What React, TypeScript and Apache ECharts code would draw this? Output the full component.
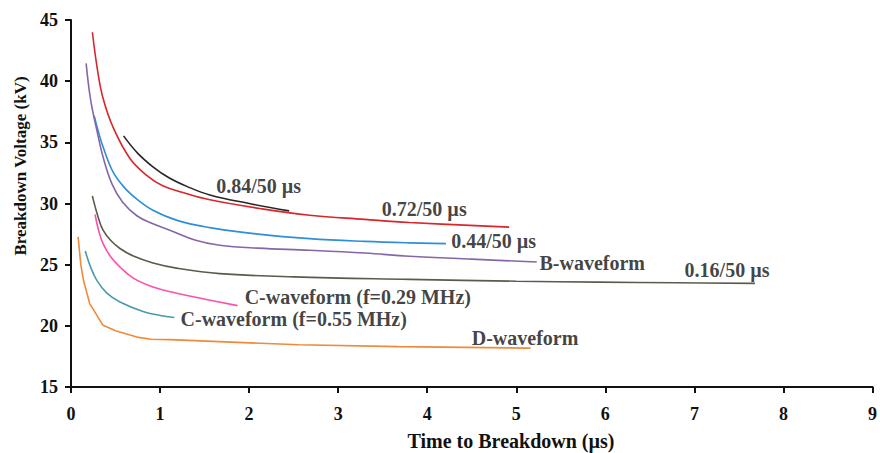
import React, { useEffect, useRef } from "react";
import * as echarts from "echarts";

const xTicks = [0, 1, 2, 3, 4, 5, 6, 7, 8, 9];
const yTicks = [15, 20, 25, 30, 35, 40, 45];

const s084 = [[0.59, 35.53], [0.75, 34.1], [0.92, 33.0], [1.1, 32.1], [1.3, 31.4], [1.56, 30.7], [2.0, 30.0], [2.45, 29.4]];
const s072 = [[0.24, 44.0], [0.3, 40.8], [0.36, 38.6], [0.47, 36.27], [0.66, 33.7], [0.85, 32.3], [1.03, 31.45], [1.3, 30.8], [1.56, 30.3], [2.12, 29.59], [2.68, 29.04], [3.3, 28.7], [3.8, 28.45], [4.92, 28.07]];
const s044 = [[0.26, 37.17], [0.31, 35.8], [0.36, 34.63], [0.47, 32.6], [0.6, 31.3], [0.75, 30.3], [0.92, 29.45], [1.2, 28.6], [1.56, 28.03], [2.1, 27.5], [2.68, 27.13], [3.3, 26.9], [3.8, 26.78], [4.21, 26.72]];
const sB = [[0.17, 41.46], [0.22, 38.5], [0.29, 36.0], [0.36, 33.8], [0.46, 31.6], [0.58, 30.1], [0.74, 29.0], [0.9, 28.4], [1.11, 27.82], [1.4, 27.0], [1.67, 26.59], [2.1, 26.35], [2.68, 26.18], [3.3, 25.95], [3.8, 25.69], [4.5, 25.45], [5.23, 25.22]];
const s016 = [[0.24, 30.62], [0.3, 29.0], [0.36, 27.82], [0.45, 26.95], [0.55, 26.32], [0.7, 25.7], [0.92, 25.14], [1.2, 24.7], [1.67, 24.27], [2.5, 24.0], [3.8, 23.8], [5.0, 23.65], [5.92, 23.57], [6.8, 23.52], [7.68, 23.47]];
const sC029 = [[0.27, 29.1], [0.31, 27.8], [0.36, 26.72], [0.45, 25.6], [0.55, 24.81], [0.7, 23.9], [0.92, 23.18], [1.2, 22.65], [1.48, 22.22], [1.87, 21.65]];
const sC055 = [[0.16, 26.12], [0.22, 24.8], [0.29, 23.72], [0.4, 22.7], [0.55, 21.95], [0.8, 21.2], [1.0, 20.85], [1.16, 20.68]];
const sD = [[0.08, 27.27], [0.11, 25.0], [0.14, 23.72], [0.21, 21.82], [0.36, 20.04], [0.5, 19.6], [0.74, 19.08], [0.9, 18.9], [1.11, 18.87], [2.56, 18.45], [3.68, 18.3], [5.16, 18.18]];

const seriesNames = ["0.84/50 µs", "0.72/50 µs", "0.44/50 µs", "B-waveform", "0.16/50 µs", "C-waveform (f=0.29 MHz)", "C-waveform (f=0.55 MHz)", "D-waveform"];
const seriesData = [s084, s072, s044, sB, s016, sC029, sC055, sD];
const seriesColors = ["#262626", "#d9262b", "#2e8fd8", "#8467a8", "#5b5b4b", "#ff4fa8", "#4a9aaa", "#f08a3a"];
const seriesSmooth = [0.4, 0.4, 0.4, 0.4, 0.4, 0.4, 0.4, false];

// label anchor (left edge, vertical middle) in data coordinates
const labelPos = [[1.63, 31.42], [3.49, 29.53], [4.27, 26.92], [5.26, 25.12], [6.89, 24.54], [1.95, 22.33], [1.23, 20.53], [4.5, 18.98]];

const xTitle = "Time to Breakdown (µs)";
const yTitle = "Breakdown Voltage (kV)";

const FONT = "'Liberation Serif', 'Times New Roman', serif";

export default function App() {
  const ref = useRef<HTMLDivElement>(null);
  useEffect(() => {
    if (!ref.current) return;
    const chart = echarts.init(ref.current, null, { renderer: "svg" });
    const lineSeries = seriesData.map((d, i) => ({
      type: "line",
      name: seriesNames[i],
      data: d,
      smooth: seriesSmooth[i],
      showSymbol: false,
      symbol: "none",
      lineStyle: { color: seriesColors[i], width: 1.6 },
      itemStyle: { color: seriesColors[i] },
      z: 2,
    }));
    const labelSeries = {
      type: "scatter",
      name: "labels",
      symbolSize: 0,
      data: labelPos.map((p, i) => ({ value: p, name: seriesNames[i] })),
      label: {
        show: true,
        position: "right",
        distance: 0,
        formatter: (p: any) => p.name,
        fontFamily: FONT,
        fontWeight: "bold",
        fontSize: 20,
        color: "#111",
      },
      silent: true,
      z: 3,
    };
    chart.setOption({
      animation: false,
      backgroundColor: "#fff",
      grid: { left: 71, right: 5, top: 20, bottom: 66 },
      xAxis: {
        type: "value",
        min: xTicks[0],
        max: xTicks[xTicks.length - 1],
        interval: 1,
        axisLine: { lineStyle: { color: "#111", width: 2 } },
        axisTick: { show: true, length: 6, lineStyle: { color: "#111", width: 2 } },
        axisLabel: { fontFamily: FONT, fontWeight: "bold", fontSize: 18, color: "#111", margin: 18 },
        splitLine: { show: false },
      },
      yAxis: {
        type: "value",
        min: yTicks[0],
        max: yTicks[yTicks.length - 1],
        interval: 5,
        axisLine: { show: true, lineStyle: { color: "#111", width: 2 } },
        axisTick: { show: true, length: 6, lineStyle: { color: "#111", width: 2 } },
        axisLabel: { fontFamily: FONT, fontWeight: "bold", fontSize: 18, color: "#111", margin: 13 },
        splitLine: { show: false },
      },
      graphic: [
        {
          type: "text",
          x: 20,
          y: 166,
          rotation: Math.PI / 2,
          style: {
            text: yTitle,
            fontFamily: FONT,
            fontWeight: "bold",
            fontSize: 17,
            fill: "#111",
            align: "center",
            verticalAlign: "middle",
          },
        },
        {
          type: "text",
          x: 511,
          y: 441,
          style: {
            text: xTitle,
            fontFamily: FONT,
            fontWeight: "bold",
            fontSize: 20,
            fill: "#111",
            align: "center",
            verticalAlign: "middle",
          },
        },
      ],
      series: [...lineSeries, labelSeries],
    });
    return () => chart.dispose();
  }, []);
  return <div ref={ref} style={{ position: "fixed", left: 0, top: 0, width: 880, height: 453, background: "#fff" }} />;
}
